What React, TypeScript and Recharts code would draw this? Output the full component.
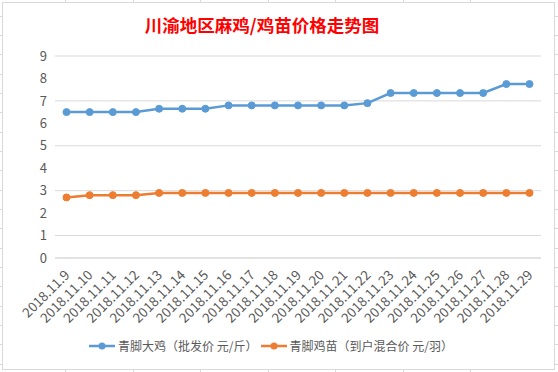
import { LineChart, Line, XAxis, YAxis, CartesianGrid, Legend } from 'recharts';

const dates = [
  '2018.11.9', '2018.11.10', '2018.11.11', '2018.11.12', '2018.11.13', '2018.11.14', '2018.11.15',
  '2018.11.16', '2018.11.17', '2018.11.18', '2018.11.19', '2018.11.20', '2018.11.21', '2018.11.22',
  '2018.11.23', '2018.11.24', '2018.11.25', '2018.11.26', '2018.11.27', '2018.11.28', '2018.11.29',
];
// 青脚大鸡（批发价 元/斤）
const bigChicken = [6.5, 6.5, 6.5, 6.5, 6.65, 6.65, 6.65, 6.8, 6.8, 6.8, 6.8, 6.8, 6.8, 6.9, 7.35, 7.35, 7.35, 7.35, 7.35, 7.75, 7.75];
// 青脚鸡苗（到户混合价 元/羽）
const chick = [2.7, 2.8, 2.8, 2.8, 2.9, 2.9, 2.9, 2.9, 2.9, 2.9, 2.9, 2.9, 2.9, 2.9, 2.9, 2.9, 2.9, 2.9, 2.9, 2.9, 2.9];
const yTicks = [0, 1, 2, 3, 4, 5, 6, 7, 8, 9];

const seriesNames = ['青脚大鸡（批发价 元/斤）', '青脚鸡苗（到户混合价 元/羽）'];
const BLUE = '#5b9bd5';
const ORANGE = '#ed7d31';

const data = dates.map((d, i) => ({ date: d, big: bigChicken[i], chick: chick[i] }));

const font = '"Noto Sans CJK SC", "Open Sans", sans-serif';

function DateTick(props: any) {
  const { x, y, payload } = props;
  const tx = x + 4;
  const ty = y + 10;
  return (
    <text
      x={tx}
      y={ty}
      textAnchor="end"
      fill="#595959"
      fontSize={13.5}
      fontFamily={font}
      transform={`rotate(-45, ${tx}, ${ty})`}
    >
      {payload.value}
    </text>
  );
}

function LegendContent() {
  const items = [
    { name: seriesNames[0], color: BLUE },
    { name: seriesNames[1], color: ORANGE },
  ];
  return (
    <div style={{ display: 'flex', justifyContent: 'center', alignItems: 'center', gap: 2, fontFamily: font, fontSize: 12, color: '#595959' }}>
      {items.map((it) => (
        <div key={it.name} style={{ display: 'flex', alignItems: 'center' }}>
          <svg width={28} height={10}>
            <line x1={1} y1={5} x2={27} y2={5} stroke={it.color} strokeWidth={2.5} />
            <circle cx={14} cy={5} r={3.5} fill={it.color} />
          </svg>
          <span style={{ marginLeft: 2 }}>{it.name}</span>
        </div>
      ))}
    </div>
  );
}

// spreadsheet cell lines peeking outside the chart frame
const cellCols = [65, 133, 200, 268, 335, 403, 470];
const cellRows = [16, 35, 54, 74, 93, 112, 132, 151, 170, 190, 209, 228, 248, 267, 286, 306, 325, 344, 364];

export default function App() {
  return (
    <div style={{ position: 'absolute', left: 0, top: 0, width: 558, height: 372, background: '#fff', overflow: 'hidden' }}>
      {cellCols.map((c) => (
        <div key={'t' + c} style={{ position: 'absolute', left: c, top: 0, width: 1, height: 372, background: '#d9d9d9' }} />
      ))}
      {cellRows.map((r) => (
        <div key={'r' + r} style={{ position: 'absolute', left: 0, top: r, width: 558, height: 1, background: '#d9d9d9' }} />
      ))}
      <div style={{ position: 'absolute', left: 2, top: 2, width: 551, height: 366, border: '1px solid #d9d9d9', background: '#fff' }} />
      <div
        style={{
          position: 'absolute', left: 0, top: 12, width: 524, textAlign: 'center',
          fontFamily: font, fontSize: 17.5, fontWeight: 'bold', color: '#ff0000',
        }}
      >
        川渝地区麻鸡/鸡苗价格走势图
      </div>
      <div style={{ position: 'absolute', left: 0, top: 0 }}>
        <LineChart width={558} height={372} data={data} margin={{ top: 56, right: 17, left: 0, bottom: 16 }}>
          <CartesianGrid vertical={false} stroke="#d9d9d9" />
          <XAxis
            dataKey="date"
            interval={0}
            tick={<DateTick />}
            tickLine={false}
            axisLine={{ stroke: '#d9d9d9' }}
            height={72}
            padding={{ left: 11.5, right: 11.5 }}
          />
          <YAxis
            domain={[0, 9]}
            ticks={yTicks}
            width={55}
            tickLine={false}
            axisLine={false}
            tick={{ fill: '#595959', fontSize: 13, fontFamily: font }}
          />
          <Legend verticalAlign="bottom" content={<LegendContent />} wrapperStyle={{ height: 26, top: 337 }} />
          <Line
            type="linear"
            dataKey="big"
            name={seriesNames[0]}
            stroke={BLUE}
            strokeWidth={2.5}
            dot={{ r: 3.5, fill: BLUE, stroke: BLUE, strokeWidth: 1 }}
            isAnimationActive={false}
          />
          <Line
            type="linear"
            dataKey="chick"
            name={seriesNames[1]}
            stroke={ORANGE}
            strokeWidth={2.5}
            dot={{ r: 3.5, fill: ORANGE, stroke: ORANGE, strokeWidth: 1 }}
            isAnimationActive={false}
          />
        </LineChart>
      </div>
    </div>
  );
}
